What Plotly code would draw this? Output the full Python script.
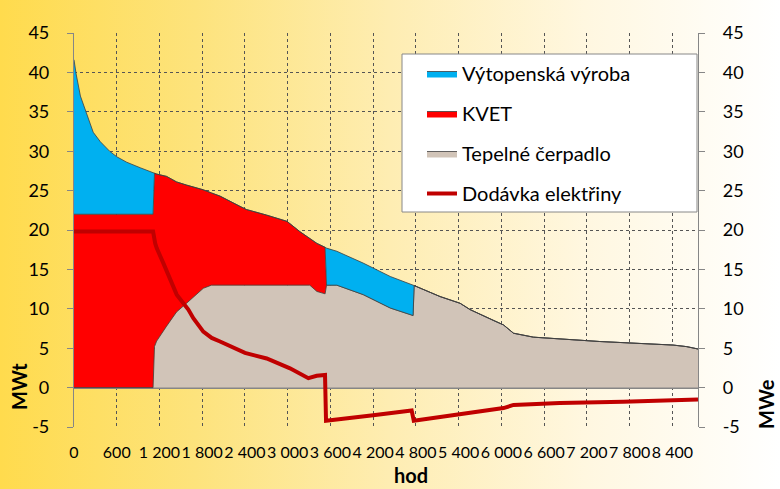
"""Heat supply duration curve: stacked sources (MWt) with electricity delivery (MWe)."""

import base64

import plotly.graph_objects as go

# hours of the year (duration curve), shared by the stacked areas
hours = [0, 30, 90, 180, 270, 370, 500, 600, 740, 930, 1110, 1130, 1160, 1300, 1440,
         1580, 1700, 1815, 1930, 2050, 2330, 2420, 2700, 2990, 3170, 3310, 3410, 3525,
         3545, 3690, 4060, 4440, 4760, 4775, 5140, 5420, 5560, 5890, 6030, 6170, 6450,
         7380, 8410, 8600, 8760]

# heat pump output (MWt)
tepelne_cerpadlo = [0, 0, 0, 0, 0, 0, 0, 0, 0, 0, 0, 5.2, 5.9, 7.8, 9.6,
                    10.7, 11.7, 12.6, 13.0, 13.0, 13.0, 13.0, 13.0, 13.0, 13.0, 13.0, 12.2, 11.9,
                    13.0, 13.0, 11.8, 10.1, 9.15, 12.95, 11.55, 10.7, 9.9, 8.5, 7.95, 6.9, 6.4,
                    5.85, 5.4, 5.2, 4.9]

# CHP (KVET) output (MWt)
kvet = [22.0, 22.0, 22.0, 22.0, 22.0, 22.0, 22.0, 22.0, 22.0, 22.0, 22.0, 22.0, 21.2, 19.0, 16.5,
        15.0, 13.7, 12.5, 11.7, 11.3, 10.0, 9.6, 8.9, 8.1, 6.8, 5.9, 6.1, 5.9,
        0, 0, 0, 0, 0, 0, 0, 0, 0, 0, 0, 0, 0,
        0, 0, 0, 0]

# peak boiler output (MWt)
vytopenska = [19.6, 17.8, 15.0, 12.8, 10.4, 9.2, 8.0, 7.3, 6.6, 5.9, 5.3, 0, 0, 0, 0,
              0, 0, 0, 0, 0, 0, 0, 0, 0, 0, 0, 0, 0,
              4.7, 4.3, 4.0, 4.0, 3.85, 0, 0, 0, 0, 0, 0, 0, 0,
              0, 0, 0, 0]

# electricity delivery (MWe)
elek_hours = [0, 1110, 1140, 1161, 1254, 1348, 1442, 1605, 1675, 1815, 1933, 2050, 2330, 2400,
              2705, 3032, 3290, 3407, 3524, 3538, 4200, 4740, 4770, 5420, 6030, 6170, 6820,
              7710, 8760]
dodavka_elektriny = [19.8, 19.8, 18.3, 17.7, 15.8, 13.9, 11.8, 9.9, 8.8, 7.1, 6.3, 5.85, 4.8, 4.4,
                     3.7, 2.45, 1.2, 1.5, 1.6, -4.2, -3.5, -2.9, -4.2, -3.4, -2.6, -2.2, -1.95,
                     -1.8, -1.5]

x_ticks = list(range(0, 8401, 600))
x_ticktext = ["0", "600", "1 200", "1 800", "2 400", "3 000", "3 600", "4 200", "4 800",
              "5 400", "6 000", "6 600", "7 200", "7 800", "8 400"]
y_ticks = list(range(-5, 46, 5))
y_ticktext = ["-5", "0", "5", "10", "15", "20", "25", "30", "35", "40", "45"]

FONT = "Lato, 'Open Sans', sans-serif"
W, H = 780, 489
L, R, T, B = 74, 82, 33, 62
PW, PH = W - L - R, H - T - B


def px_x(p):
    return (p - L) / PW


def px_y(p):
    return (H - B - p) / PH


svg = (
    '<svg xmlns="http://www.w3.org/2000/svg" width="780" height="489" preserveAspectRatio="none">'
    '<defs><linearGradient id="g" x1="0" y1="0" x2="1" y2="0">'
    '<stop offset="0" stop-color="#FFDB4D"/>'
    '<stop offset="0.25" stop-color="#FDE37C"/>'
    '<stop offset="0.5" stop-color="#FEEDB2"/>'
    '<stop offset="0.75" stop-color="#FFF7E0"/>'
    '<stop offset="1" stop-color="#FFFFFF"/>'
    '</linearGradient></defs><rect width="780" height="489" fill="url(#g)"/></svg>'
)
bg_uri = "data:image/svg+xml;base64," + base64.b64encode(svg.encode()).decode()

fig = go.Figure()

edge = dict(color="#3F3F3F", width=0.8)
fig.add_trace(go.Scatter(x=hours, y=tepelne_cerpadlo, name="Tepelné čerpadlo", stackgroup="s",
                         mode="lines", line=edge, fillcolor="#D1C4B8",
                         legendgroup="c", legendrank=3))
fig.add_trace(go.Scatter(x=hours, y=kvet, name="KVET", stackgroup="s",
                         mode="lines", line=edge, fillcolor="#FF0000",
                         legendgroup="b", legendrank=2))
fig.add_trace(go.Scatter(x=hours, y=vytopenska, name="Výtopenská výroba", stackgroup="s",
                         mode="lines", line=edge, fillcolor="#00B0F0",
                         legendgroup="a", legendrank=1))
fig.add_trace(go.Scatter(x=elek_hours, y=dodavka_elektriny, name="Dodávka elektřiny",
                         mode="lines", line=dict(color="#C00000", width=4), yaxis="y2",
                         legendgroup="d", legendrank=4))

grid = dict(showgrid=True, gridcolor="#555555", griddash="dot", gridwidth=1)
yticks = dict(range=[-5, 45], tickmode="array", tickvals=y_ticks, ticktext=y_ticktext,
              tickfont=dict(size=18), showline=True, linecolor="#868686", linewidth=1.2,
              ticks="outside", ticklen=6, tickcolor="#868686", ticklabelstandoff=14,
              automargin=False)

fig.update_layout(
    width=W, height=H,
    margin=dict(l=L, r=R, t=T, b=B, autoexpand=False),
    paper_bgcolor="white",
    plot_bgcolor="rgba(0,0,0,0)",
    font=dict(family=FONT, color="black"),
    images=[dict(source=bg_uri, xref="paper", yref="paper", x=-L / PW, y=1 + T / PH,
                 sizex=W / PW, sizey=H / PH, xanchor="left", yanchor="top",
                 sizing="stretch", layer="below")],
    xaxis=dict(range=[0, 8760], tickmode="array", tickvals=x_ticks, ticktext=x_ticktext,
               tickangle=0, tickfont=dict(size=16), ticklabelstandoff=14, automargin=False,
               showline=False, zeroline=False, ticks="", **grid),
    yaxis=dict(zeroline=True, zerolinecolor="#868686", zerolinewidth=1.5, **yticks, **grid),
    yaxis2=dict(overlaying="y", side="right", showgrid=False, zeroline=False, **yticks),
    showlegend=True,
    legend=dict(x=px_x(422), y=px_y(54), xanchor="left", yanchor="top",
                bgcolor="rgba(0,0,0,0)", borderwidth=0, font=dict(size=20),
                traceorder="grouped", tracegroupgap=11),
    shapes=[dict(type="rect", xref="paper", yref="paper",
                 x0=px_x(402), x1=px_x(697), y0=px_y(212), y1=px_y(54),
                 fillcolor="white", line=dict(color="#888888", width=1), layer="above")],
    annotations=[
        dict(text="<b>MWt</b>", xref="paper", yref="paper", x=px_x(19), y=px_y(386),
             xanchor="center", yanchor="middle", showarrow=False, textangle=-90,
             font=dict(size=20)),
        dict(text="<b>MWe</b>", xref="paper", yref="paper", x=px_x(766), y=px_y(404),
             xanchor="center", yanchor="middle", showarrow=False, textangle=-90,
             font=dict(size=20)),
        dict(text="<b>hod</b>", xref="paper", yref="paper", x=px_x(411), y=px_y(475),
             xanchor="center", yanchor="middle", showarrow=False, font=dict(size=20)),
    ],
)

# the page body has a default 8px margin; drop it so the figure sits at the corner
fig.write_html("out.html", config={"displayModeBar": False},
               post_script="document.body.style.margin='0';")
